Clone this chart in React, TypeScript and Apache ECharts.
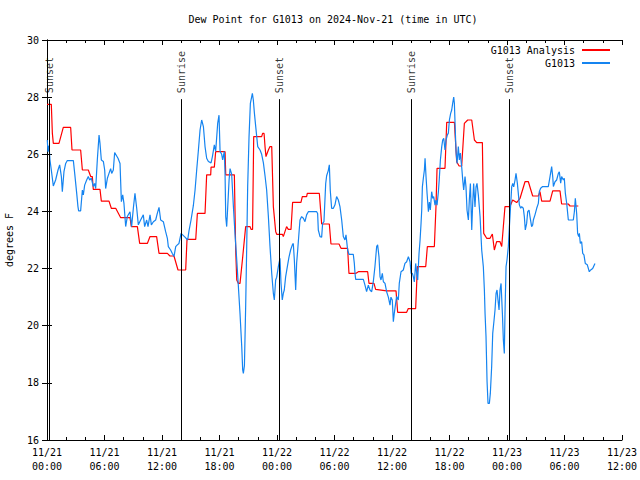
import React, { useEffect, useRef } from "react";
import * as echarts from "echarts";

const TITLE = "Dew Point for G1013 on 2024-Nov-21 (time in UTC)";
const SERIES_NAMES = ["G1013 Analysis", "G1013"];

// hours since 11/21 00:00 UTC
const anaHours = [
  0, 0.45, 0.56, 0.66, 1.25, 1.7, 2.47, 2.61, 3.51, 3.69, 4.31, 4.56, 4.73, 4.83, 5.53, 5.67, 6.47, 6.71, 7.17, 7.69,
  8.66, 8.8, 9.43, 9.67, 10.47, 10.75, 11.44, 11.69, 12.56, 12.83, 13.25, 13.67, 14.47, 14.61, 15.52, 15.69, 16.49,
  16.66, 17.08, 17.12, 17.46, 17.6, 18.58, 18.65, 19.55, 19.69, 19.8, 19.97, 20.14, 20.39, 20.73, 21.19, 21.29, 21.45,
  21.57, 22.4, 22.5, 22.65, 22.75, 22.85, 23.1, 23.27, 23.45, 23.62, 23.86, 23.97, 24.56, 24.66, 25.0, 25.18, 25.46,
  25.63, 26.5, 26.64, 27.09, 27.16, 28.42, 28.66, 29.46, 29.63, 30.47, 30.68, 31.37, 31.51, 32.21, 32.49, 33.46, 33.6,
  34.12, 34.29, 35.44, 36.42, 36.59, 37.53, 37.7, 38.47, 38.65, 39.52, 39.69, 40.42, 40.59, 40.7, 41.53, 41.71, 42.51,
  42.75, 43.0, 43.27, 43.55, 43.9, 44.32, 44.6, 44.84, 45.43, 45.57, 45.88, 46.23, 46.47, 46.68, 46.92, 47.27, 47.45,
  47.62, 47.79, 48.31, 48.59, 49.01, 49.36, 49.88, 50.23, 50.68, 51.27, 51.44, 51.62, 52.49, 52.77, 53.53, 53.7, 54.4,
  54.57, 55.44,
];
const anaDew = [
  27.75, 27.75, 26.73, 26.38, 26.38, 26.94, 26.94, 26.15, 26.15, 25.45, 25.45, 25.22, 25.22, 24.77, 24.77, 24.36, 24.36,
  24.11, 24.11, 23.78, 23.78, 23.47, 23.47, 22.88, 22.88, 23.12, 23.12, 22.53, 22.53, 22.44, 22.44, 21.95, 21.95, 23.02,
  23.02, 23.93, 23.93, 25.28, 25.28, 25.55, 25.55, 26.09, 26.09, 25.28, 25.28, 22.65, 21.6, 21.48, 21.48, 22.3, 23.47,
  23.47, 23.37, 23.37, 26.62, 26.62, 26.73, 26.73, 26.27, 25.92, 26.15, 26.27, 26.27, 24.17, 23.3, 23.2, 23.2, 23.12,
  23.47, 23.37, 23.37, 24.32, 24.32, 24.52, 24.52, 24.63, 24.63, 23.56, 23.56, 22.86, 22.86, 22.71, 22.71, 21.83, 21.83,
  21.89, 21.89, 21.48, 21.48, 21.27, 21.22, 21.22, 20.47, 20.47, 20.6, 20.6, 22.07, 22.07, 22.77, 22.77, 24.17, 25.51,
  25.51, 27.12, 27.12, 25.74, 25.59, 25.59, 27.08, 27.2, 27.2, 26.5, 26.41, 26.41, 23.23, 23.06, 23.06, 23.21, 22.65,
  22.94, 22.94, 22.77, 23.47, 24.17, 24.17, 24.4, 24.31, 24.46, 25.04, 25.04, 24.54, 24.54, 24.69, 24.36, 24.36, 24.72,
  24.72, 24.26, 24.26, 24.19, 24.19,
];

const obsHours = [
  0.03, 0.1, 0.21, 0.31, 0.45, 0.66, 0.9, 1.15, 1.32, 1.5, 1.6, 1.77, 1.95, 2.12, 2.75, 2.89, 3.1, 3.23, 3.3, 3.51, 3.69,
  3.79, 3.93, 4.14, 4.31, 4.45, 4.63, 4.83, 4.97, 5.08, 5.25, 5.43, 5.53, 5.67, 5.88, 6.02, 6.12, 6.3, 6.47, 6.64, 6.75,
  6.92, 7.06, 7.27, 7.41, 7.62, 7.76, 7.9, 8.03, 8.21, 8.38, 8.66, 8.83, 9.01, 9.18, 9.36, 9.53, 9.77, 10.05, 10.19,
  10.4, 10.54, 10.75, 10.89, 11.1, 11.34, 11.51, 11.69, 11.86, 12.14, 12.38, 12.56, 12.66, 12.9, 13.08, 13.25, 13.43,
  13.6, 13.77, 13.99, 14.4, 14.68, 14.82, 15.03, 15.27, 15.45, 15.62, 15.8, 15.97, 16.14, 16.32, 16.49, 16.66, 16.84,
  17.12, 17.26, 17.46, 17.6, 17.81, 17.95, 18.06, 18.23, 18.33, 18.5, 18.58, 18.65, 18.75, 18.82, 19.0, 19.1, 19.27,
  19.45, 19.62, 19.8, 19.97, 20.14, 20.32, 20.42, 20.49, 20.6, 20.73, 20.84, 20.94, 21.08, 21.22, 21.43, 21.53, 21.64,
  21.78, 21.99, 22.23, 22.4, 22.58, 22.75, 22.92, 23.1, 23.27, 23.45, 23.62, 23.72, 23.86, 23.97, 24.14, 24.31, 24.42,
  24.55, 24.66, 24.76, 24.9, 25.11, 25.25, 25.42, 25.6, 25.7, 25.81, 25.95, 26.05, 26.16, 26.29, 26.4, 26.57, 26.75,
  26.92, 27.09, 27.27, 27.62, 28.14, 28.24, 28.31, 28.49, 28.66, 28.76, 28.9, 29.08, 29.18, 29.35, 29.46, 29.56, 29.7,
  29.88, 30.05, 30.22, 30.4, 30.57, 30.75, 30.92, 31.09, 31.2, 31.37, 31.51, 31.96, 32.07, 32.14, 32.21, 33.01, 33.18,
  33.35, 33.53, 33.7, 33.88, 34.05, 34.22, 34.4, 34.5, 34.64, 34.75, 34.85, 34.99, 35.1, 35.27, 35.44, 35.62, 35.79,
  35.89, 36.03, 36.14, 36.24, 36.38, 36.48, 36.66, 36.76, 36.94, 37.18, 37.35, 37.53, 37.71, 37.88, 37.99, 38.13, 38.23,
  38.33, 38.47, 38.58, 38.68, 38.82, 38.93, 39.03, 39.1, 39.17, 39.27, 39.38, 39.45, 39.55, 39.66, 39.8, 39.9, 40.0,
  40.14, 40.25, 40.35, 40.49, 40.59, 40.7, 40.84, 40.94, 41.05, 41.19, 41.29, 41.4, 41.53, 41.64, 41.78, 41.88, 41.99,
  42.12, 42.23, 42.33, 42.44, 42.51, 42.58, 42.68, 42.79, 42.92, 43.03, 43.13, 43.27, 43.38, 43.48, 43.62, 43.72, 43.83,
  43.97, 44.07, 44.18, 44.32, 44.42, 44.52, 44.66, 44.77, 44.87, 45.01, 45.19, 45.36, 45.53, 45.64, 45.71, 45.81, 45.92,
  46.02, 46.16, 46.26, 46.4, 46.51, 46.65, 46.75, 46.86, 46.96, 47.06, 47.17, 47.27, 47.38, 47.52, 47.62, 47.72, 47.79,
  47.9, 48.0, 48.14, 48.25, 48.35, 48.49, 48.6, 48.7, 48.84, 48.94, 49.08, 49.18, 49.29, 49.43, 49.53, 49.7, 49.81,
  49.91, 50.05, 50.16, 50.3, 50.4, 50.57, 50.68, 50.75, 50.92, 51.1, 51.27, 51.37, 51.51, 51.72, 52.31, 52.49, 52.66,
  52.77, 52.84, 53.01, 53.18, 53.36, 53.46, 53.6, 53.7, 53.88, 53.98, 54.09, 54.23, 54.4, 54.92, 55.03, 55.13, 55.27,
  55.37, 55.48, 55.55, 55.65, 55.79, 55.9, 56.03, 56.17, 56.38, 56.59, 56.73, 56.94, 57.18,
];
const obsDew = [
  26.5, 26.09, 26.3, 25.8, 25.45, 24.89, 25.1, 25.45, 25.63, 25.22, 24.69, 25.39, 25.68, 25.78, 25.78, 25.33, 24.63,
  24.17, 24.02, 24.02, 24.75, 24.58, 24.92, 25.1, 25.22, 25.1, 25.16, 24.87, 24.98, 24.8, 25.8, 26.67, 26.38, 25.8,
  25.75, 25.45, 24.8, 25.16, 25.33, 25.5, 25.33, 25.45, 26.06, 25.94, 25.86, 25.68, 24.34, 24.58, 24.28, 23.47, 23.82,
  23.99, 23.47, 24.11, 24.63, 24.11, 23.53, 23.7, 23.88, 23.47, 23.7, 23.47, 23.88, 23.53, 23.64, 23.7, 23.93, 24.14,
  23.7, 23.64, 23.29, 23.06, 22.77, 22.65, 22.53, 22.42, 22.77, 22.83, 22.88, 23.23, 23.1, 23.0, 23.33, 23.7, 24.2,
  24.75, 25.45, 26.15, 26.85, 27.2, 26.97, 26.27, 25.86, 25.75, 25.7, 25.92, 26.33, 26.1, 27.08, 27.37, 26.1, 26.0,
  25.8, 26.1, 25.3, 23.82, 23.47, 23.9, 25.1, 25.5, 25.3, 24.17, 23.2, 22.3, 21.37, 20.43, 19.27, 18.45, 18.33, 18.6,
  20.67, 22.77, 24.87, 26.6, 27.78, 28.13, 27.9, 27.45, 26.97, 26.27, 26.15, 26.0, 25.7, 25.25, 24.75, 23.82, 22.77,
  21.83, 21.13, 20.9, 21.6, 21.7, 22.07, 22.36, 21.48, 20.9, 21.13, 21.25, 21.71, 22.13, 22.4, 22.65, 22.83, 22.88,
  22.3, 21.25, 22.2, 22.65, 23.23, 23.7, 23.82, 23.76, 23.64, 23.88, 23.99, 23.99, 23.99, 23.93, 23.35, 23.12, 23.1,
  23.58, 23.64, 24.97, 25.25, 25.43, 25.63, 24.73, 24.11, 24.11, 24.23, 24.52, 24.4, 24.17, 23.7, 23.12, 23.0, 23.18,
  22.65, 22.5, 22.5, 22.18, 21.83, 21.62, 21.62, 21.42, 21.19, 21.42, 21.25, 21.19, 21.54, 22.07, 22.77, 22.83, 22.42,
  21.72, 21.6, 21.83, 21.54, 21.48, 21.19, 21.0, 20.72, 21.0, 20.9, 20.14, 20.44, 20.78, 21.02, 20.9, 21.48, 21.89,
  21.95, 22.18, 22.24, 22.42, 22.24, 21.83, 21.83, 21.71, 21.53, 22.18, 21.83, 21.6, 22.53, 23.0, 23.58, 24.04, 24.86,
  25.16, 25.45, 25.86, 25.22, 24.63, 23.99, 24.33, 24.05, 24.69, 24.46, 24.52, 24.22, 24.4, 24.22, 24.69, 25.16, 25.8,
  26.27, 26.5, 26.56, 26.15, 26.5, 26.68, 26.74, 27.2, 27.43, 27.55, 27.78, 28.0, 27.78, 27.08, 26.1, 25.68, 26.27, 25.8,
  26.04, 25.57, 25.1, 24.75, 25.22, 24.86, 24.04, 23.7, 24.4, 24.98, 23.35, 24.28, 24.98, 24.16, 24.86, 24.98, 24.57,
  23.82, 22.65, 22.07, 21.25, 20.43, 19.62, 18.04, 17.28, 17.28, 17.63, 18.57, 19.73, 20.2, 20.55, 21.13, 21.25, 20.9,
  20.55, 21.25, 21.48, 20.43, 19.5, 19.03, 20.43, 22.07, 22.3, 22.77, 23.47, 24.05, 24.86, 24.98, 24.86, 25.1, 25.33,
  24.99, 24.63, 24.23, 24.11, 24.17, 24.11, 23.82, 23.35, 23.58, 23.99, 24.05, 23.82, 23.47, 23.53, 23.7, 23.88, 24.11,
  24.28, 24.69, 24.81, 24.87, 24.87, 25.22, 25.57, 25.22, 24.87, 25.04, 25.1, 25.33, 25.39, 24.99, 25.22, 25.1, 25.16,
  24.63, 24.28, 23.7, 23.7, 23.99, 24.46, 23.93, 23.23, 23.12, 23.23, 22.88, 22.94, 22.53, 22.48, 22.18, 22.13, 21.89,
  21.95, 22.0, 22.18,
];

const eventHours = [0.22, 14.0, 24.26, 38.0, 48.28];
const eventNames = ["Sunset", "Sunrise", "Sunset", "Sunrise", "Sunset"];

const yTicks = [16, 18, 20, 22, 24, 26, 28, 30];

const FONT = "'DejaVu Sans Mono', 'Liberation Mono', monospace";
const RED = "#ff0000";
const BLUE = "#1584f0";

function pad2(n: number) {
  return String(n).padStart(2, "0");
}

export default function App() {
  const ref = useRef<HTMLDivElement>(null);
  useEffect(() => {
    if (!ref.current) return;
    const chart = echarts.init(ref.current, null, { renderer: "svg" });
    const lineTop = 27.93;
    const xCommon = {
      type: "value" as const,
      min: 0,
      max: 60,
      interval: 6,
      axisLine: { show: true, lineStyle: { color: "#000", width: 1 } },
      axisTick: { show: true, inside: true, length: 5, lineStyle: { color: "#000" } },
      minorTick: { show: true, splitNumber: 3, length: 3, lineStyle: { color: "#000" } },
      splitLine: { show: false },
      minorSplitLine: { show: false },
    };
    const yCommon = {
      type: "value" as const,
      min: yTicks[0],
      max: yTicks[yTicks.length - 1],
      interval: 2,
      axisLine: { show: true, lineStyle: { color: "#000", width: 1 } },
      axisTick: { show: true, inside: true, length: 5, lineStyle: { color: "#000" } },
      splitLine: { show: false },
    };
    chart.setOption({
      animation: false,
      backgroundColor: "#fff",
      title: {
        text: TITLE,
        left: 333,
        top: 14,
        textAlign: "center",
        padding: 0,
        textStyle: { fontFamily: FONT, fontSize: 10, fontWeight: "normal", color: "#000" },
      },
      legend: {
        data: SERIES_NAMES,
        orient: "vertical",
        align: "right",
        right: 30,
        top: 44,
        padding: 0,
        itemGap: 1,
        itemWidth: 28,
        itemHeight: 2,
        icon: "rect",
        textStyle: { fontFamily: FONT, fontSize: 10, color: "#000", lineHeight: 12, padding: [0, 2, 0, 0] },
      },
      grid: { left: 47, right: 18, top: 40, bottom: 40, outerBoundsMode: "none", containLabel: false },
      xAxis: [
        {
          ...xCommon,
          position: "bottom",
          axisLabel: {
            show: true,
            showMinLabel: true,
            showMaxLabel: true,
            margin: 5,
            fontFamily: FONT,
            fontSize: 10,
            color: "#000",
            lineHeight: 14.5,
            formatter: (v: number) => {
              const day = 21 + Math.floor(v / 24);
              const hh = v % 24;
              return `11/${day}\n${pad2(hh)}:00`;
            },
          },
        },
        { ...xCommon, position: "top", axisLabel: { show: false } },
      ],
      yAxis: [
        {
          ...yCommon,
          position: "left",
          name: "degrees F",
          nameLocation: "middle",
          nameGap: 33,
          nameRotate: 90,
          nameTextStyle: { fontFamily: FONT, fontSize: 10, color: "#000" },
          axisLabel: { show: true, margin: 8, fontFamily: FONT, fontSize: 10, color: "#000" },
        },
        { ...yCommon, position: "right", axisLabel: { show: false } },
      ],
      series: [
        {
          name: SERIES_NAMES[0],
          type: "line",
          data: anaHours.map((h, i) => [h, anaDew[i]]),
          showSymbol: false,
          symbol: "none",
          lineStyle: { color: RED, width: 1.2 },
          itemStyle: { color: RED },
          z: 3,
          markLine: {
            silent: true,
            symbol: ["none", "none"],
            label: { show: false },
            lineStyle: { color: "#000", width: 1, type: "solid" },
            data: eventHours.map((h) => [{ coord: [h, 16] }, { coord: [h, lineTop] }]),
          },
        },
        {
          name: SERIES_NAMES[1],
          type: "line",
          data: obsHours.map((h, i) => [h, obsDew[i]]),
          showSymbol: false,
          symbol: "none",
          lineStyle: { color: BLUE, width: 1.2 },
          itemStyle: { color: BLUE },
          z: 4,
        },
        {
          name: "events",
          type: "scatter",
          data: eventHours.map((h, i) => ({ value: [h, lineTop], name: eventNames[i] })),
          symbolSize: 0,
          silent: true,
          label: {
            show: true,
            formatter: "{b}",
            position: "top",
            distance: 6,
            rotate: 90,
            align: "left",
            verticalAlign: "middle",
            fontFamily: FONT,
            fontSize: 10,
            color: "#000",
          },
          z: 5,
        },
      ],
    });
    return () => chart.dispose();
  }, []);
  return (
    <div
      ref={ref}
      style={{ position: "fixed", left: 0, top: 0, width: 640, height: 480, background: "#fff" }}
    />
  );
}
